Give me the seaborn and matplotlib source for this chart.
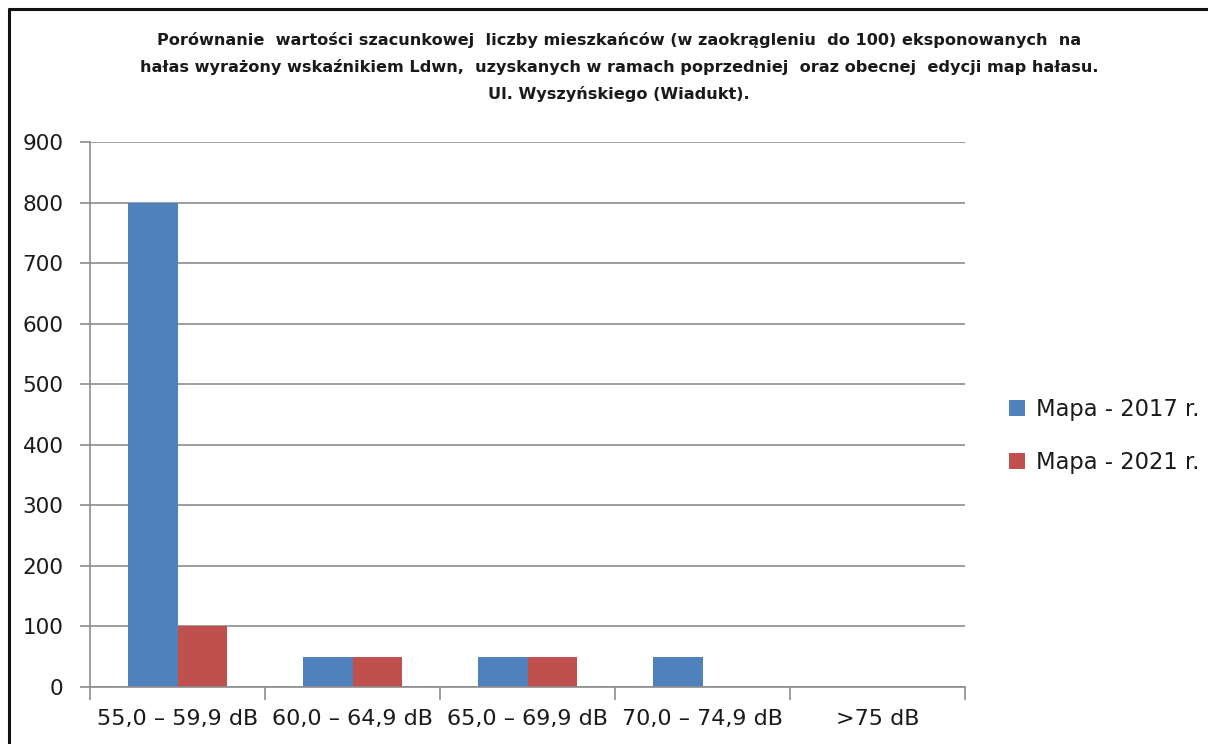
import matplotlib
matplotlib.use("Agg")
import matplotlib.pyplot as plt
from matplotlib.lines import Line2D
from matplotlib.patches import Patch
import seaborn as sns
import pandas as pd

# Noise-exposure ranges (Ldwn) and estimated residents per map edition
categories = ["55,0 \u2013 59,9 dB", "60,0 \u2013 64,9 dB", "65,0 \u2013 69,9 dB",
              "70,0 \u2013 74,9 dB", ">75 dB"]
series_names = ["Mapa - 2017 r.", "Mapa - 2021 r."]
values_2017 = [800, 50, 50, 50, 0]
values_2021 = [100, 50, 50, 0, 0]
yticks = [0, 100, 200, 300, 400, 500, 600, 700, 800, 900]
title_lines = [
    "Porównanie  wartości szacunkowej  liczby mieszkańców (w zaokrągleniu  do 100) eksponowanych  na",
    "hałas wyrażony wskaźnikiem Ldwn,  uzyskanych w ramach poprzedniej  oraz obecnej  edycji map hałasu.",
    "Ul. Wyszyńskiego (Wiadukt).",
]
colors = ["#4F81BD", "#C0504D"]

df = pd.DataFrame({
    "zakres": categories * 2,
    "seria": [series_names[0]] * len(categories) + [series_names[1]] * len(categories),
    "liczba": values_2017 + values_2021,
})

sns.set_theme(style="white")
plt.rcParams["font.family"] = ["DejaVu Sans"]

W, H = 1208, 744
fig = plt.figure(figsize=(W / 100, H / 100), dpi=100)
ax = fig.add_axes([90 / W, 1 - 687 / H, (965 - 90) / W, (687 - 142) / H])

sns.barplot(data=df, x="zakres", y="liczba", hue="seria", order=categories,
            hue_order=series_names, palette=colors, width=0.57, saturation=1,
            linewidth=0, errorbar=None, legend=False, ax=ax)

ax.set_xlim(-0.5, len(categories) - 0.5)
ax.set_ylim(0, 900)
ax.set_yticks(yticks)
ax.set_yticklabels([str(v) for v in yticks])
ax.yaxis.grid(True, color="#8C8C8C", linewidth=1.2)
ax.set_axisbelow(True)
ax.set_xlabel("")
ax.set_ylabel("")

# category boundaries as major ticks, labels centred on minor ticks
ax.set_xticks([i - 0.5 for i in range(len(categories) + 1)])
ax.set_xticklabels([""] * (len(categories) + 1))
ax.set_xticks(range(len(categories)), minor=True)
ax.set_xticklabels(categories, minor=True, fontsize=16, color="#1a1a1a")
ax.tick_params(axis="x", which="major", length=9, width=1.2, color="#8C8C8C", bottom=True)
ax.tick_params(axis="x", which="minor", length=0, pad=16)
ax.tick_params(axis="y", length=7, width=1.2, color="#8C8C8C", left=True, pad=12,
               labelsize=15.5, labelcolor="#1a1a1a")

for side in ["top", "right"]:
    ax.spines[side].set_visible(False)
for side in ["left", "bottom"]:
    ax.spines[side].set_color("#8C8C8C")
    ax.spines[side].set_linewidth(1.2)

# legend on the right
handles = [Patch(facecolor=c, edgecolor="none") for c in colors]
fig.legend(handles, series_names, loc="center left", bbox_to_anchor=(1000 / W, 1 - 436 / H),
           frameon=False, fontsize=16.3, handlelength=0.72, handleheight=0.72,
           handletextpad=0.45, labelspacing=1.3, borderaxespad=0, labelcolor="#1a1a1a")

# title
for i, line in enumerate(title_lines):
    fig.text(619 / W, 1 - (40 + 27 * i) / H, line, ha="center", va="center",
             fontsize=11.6, fontweight="bold", color="#1a1a1a")

# outer frame (left and top edges)
fig.add_artist(Line2D([8.5 / W, 8.5 / W], [0, 1 - 8.5 / H], transform=fig.transFigure,
                      color="#111111", linewidth=2.2))
fig.add_artist(Line2D([8.5 / W, 1], [1 - 8.5 / H, 1 - 8.5 / H], transform=fig.transFigure,
                      color="#111111", linewidth=2.2))

fig.savefig("out.png", dpi=100, facecolor="white")
